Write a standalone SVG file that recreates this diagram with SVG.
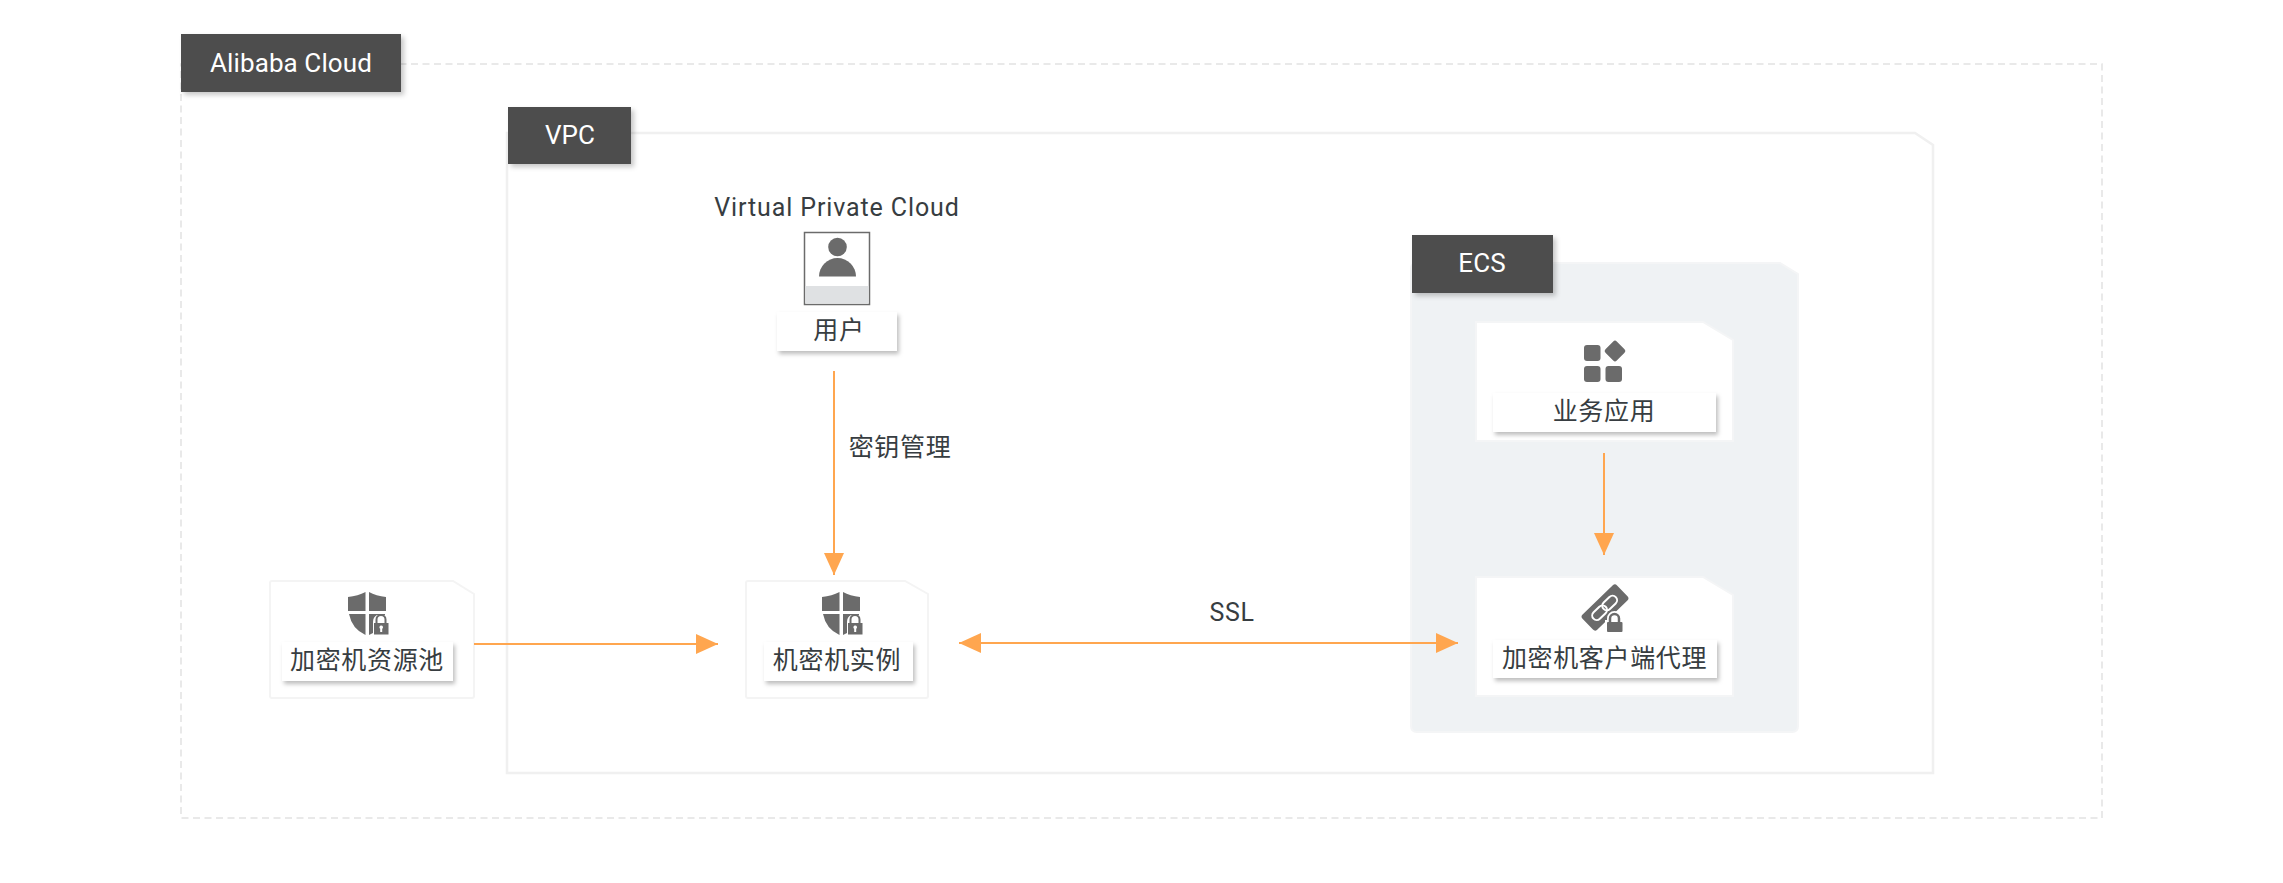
<svg xmlns="http://www.w3.org/2000/svg" width="2283" height="883" viewBox="0 0 2283 883">
<style>
.t{font-family:Roboto,"Noto Sans CJK SC",sans-serif;font-size:25px;fill:#373d41;text-anchor:middle;letter-spacing:.65px}
.v{letter-spacing:.88px}
.tab{fill:#4d4d4d;filter:url(#s)}
.tt{font-family:Roboto,"Noto Sans CJK SC",sans-serif;font-size:26px;fill:#fff;text-anchor:middle;letter-spacing:.1px}
.lb{fill:#fff;filter:url(#s2)}
.card{fill:#fff;stroke:#f4f4f4;stroke-width:2}
.ic{fill:#6b6b6b}
.c{stroke:#ffa64f;stroke-width:2;fill:none}
</style>
<defs>
<filter id="s" x="-10%" y="-20%" width="125%" height="150%"><feDropShadow dx="3" dy="3" stdDeviation="2.500" flood-color="#000" flood-opacity=".22"/></filter>
<filter id="s2" x="-10%" y="-20%" width="125%" height="150%"><feDropShadow dx="2" dy="3" stdDeviation="2" flood-color="#000" flood-opacity=".26"/></filter>
<marker id="a" markerUnits="userSpaceOnUse" markerWidth="23" markerHeight="20" refX="22" refY="10" orient="auto-start-reverse"><path d="M0 0L22 10L0 20z" fill="#ffa64f"/></marker>
<g id="shield"><path class="ic" d="M0 5Q10 4 17.500 0V19H0zM21 0Q28 4 38 5V19H21zM1 22H17.500V43Q4 37 1 22zM21 22H37V23H29Q25 25 25 30V41L21 43z"/><path d="M28.500 32V27.500a4.500 4.500 0 0 1 9 0V32" fill="none" stroke="#6b6b6b" stroke-width="2"/><rect class="ic" x="26" y="31" width="14.500" height="11.500"/><path d="M33.200 33.500a1.800 1.800 0 0 1 1 3.300V40H32.200V36.800a1.800 1.800 0 0 1 1-3.300z" fill="#fff"/></g>
</defs>
<rect width="2283" height="883" fill="#fff"/>
<g id="alibaba-cloud">
<rect x="181" y="64" width="1921" height="754" fill="none" stroke="#e2e2e2" stroke-width="1.500" stroke-dasharray="7 4.500"/>
<rect class="tab" x="181" y="34" width="220" height="58"/>
<text class="tt" x="291" y="72">Alibaba Cloud</text>
</g>
<g id="vpc">
<path d="M507 133H1915L1933 145V773H507z" fill="#fff" stroke="#f0f0f0" stroke-width="2.500"/>
<rect class="tab" x="508" y="107" width="123" height="57"/>
<text class="tt" x="570" y="144">VPC</text>
<text class="t v" x="837" y="216">Virtual Private Cloud</text>
</g>
<g id="ecs">
<path d="M1417 263H1780L1798 274V726Q1798 732 1792 732H1417Q1411 732 1411 726V269Q1411 263 1417 263z" fill="#eff2f4" stroke="#f4f5f6" stroke-width="2"/>
<rect class="tab" x="1412" y="235" width="141" height="58"/>
<text class="tt" x="1482" y="272">ECS</text>
</g>
<g id="user">
<rect x="804.500" y="232.500" width="65" height="72" fill="#fff" stroke="#6b6b6b" stroke-width="1.500"/>
<rect x="805.500" y="286" width="63" height="17.500" fill="#dfe1e3"/>
<circle class="ic" cx="837.500" cy="247" r="9.300"/>
<path class="ic" d="M819 276.500A18.300 18.300 0 0 1 856 276.500z"/>
<rect class="lb" x="777" y="312" width="120" height="39"/>
<text class="t" x="839" y="339">用户</text>
</g>
<g id="hsm-pool">
<path class="card" d="M272 581H453L474 594V696Q474 698 472 698H272Q270 698 270 696V583Q270 581 272 581z"/>
<use href="#shield" x="348" y="592"/>
<rect class="lb" x="282" y="642" width="171" height="39"/>
<text class="t" x="367" y="669">加密机资源池</text>
</g>
<g id="hsm-instance">
<path class="card" d="M748 581H905L928 594V696Q928 698 926 698H748Q746 698 746 696V583Q746 581 748 581z"/>
<use href="#shield" x="822" y="592"/>
<rect class="lb" x="764" y="642" width="149" height="39"/>
<text class="t" x="837" y="669">机密机实例</text>
</g>
<g id="app">
<path d="M1476 322H1703L1733 340V441H1476z" fill="#fff" stroke="#f4f5f6" stroke-width="2"/>
<rect class="ic" x="1584" y="345" width="16.500" height="16" rx="3"/>
<rect class="ic" x="1584" y="366" width="16.500" height="16" rx="3"/>
<rect class="ic" x="1605.500" y="366" width="16.500" height="16" rx="3"/>
<rect class="ic" x="1607" y="343" width="16" height="16" rx="2.500" transform="rotate(45 1615 351)"/>
<rect class="lb" x="1493" y="393" width="223" height="39"/>
<text class="t" x="1604" y="420">业务应用</text>
</g>
<g id="client-proxy">
<path d="M1476 577H1703L1733 595V696H1476z" fill="#fff" stroke="#f4f5f6" stroke-width="2"/>
<g transform="rotate(-44 1605 607.500)">
<rect class="ic" x="1581" y="597" width="48" height="21" rx="3"/>
<rect x="1589" y="603" width="17" height="9" rx="4.500" fill="none" stroke="#fff" stroke-width="2"/>
<rect x="1603" y="603" width="17" height="9" rx="4.500" fill="none" stroke="#fff" stroke-width="2"/>
</g>
<path d="M1610 623V618.500a4.500 4.500 0 0 1 4.500-4.500a4.500 4.500 0 0 1 4.500 4.500V623" fill="none" stroke="#fff" stroke-width="6"/>
<rect x="1605" y="620" width="19" height="14" fill="#fff"/>
<path d="M1610 623V618.500a4.500 4.500 0 0 1 9 0V623" fill="none" stroke="#6b6b6b" stroke-width="2.500"/>
<rect class="ic" x="1607" y="622" width="15.500" height="10" rx="1"/>
<rect class="lb" x="1493" y="640" width="224" height="38"/>
<text class="t" x="1604.500" y="667">加密机客户端代理</text>
</g>
<g id="connectors">
<path class="c" d="M474 644H718" marker-end="url(#a)"/>
<path class="c" d="M834 371V575" marker-end="url(#a)"/>
<path class="c" d="M959 643H1458" marker-start="url(#a)" marker-end="url(#a)"/>
<path class="c" d="M1604 453V555" marker-end="url(#a)"/>
<text class="t" x="900" y="456">密钥管理</text>
<text class="t" x="1232" y="621">SSL</text>
</g>
</svg>
